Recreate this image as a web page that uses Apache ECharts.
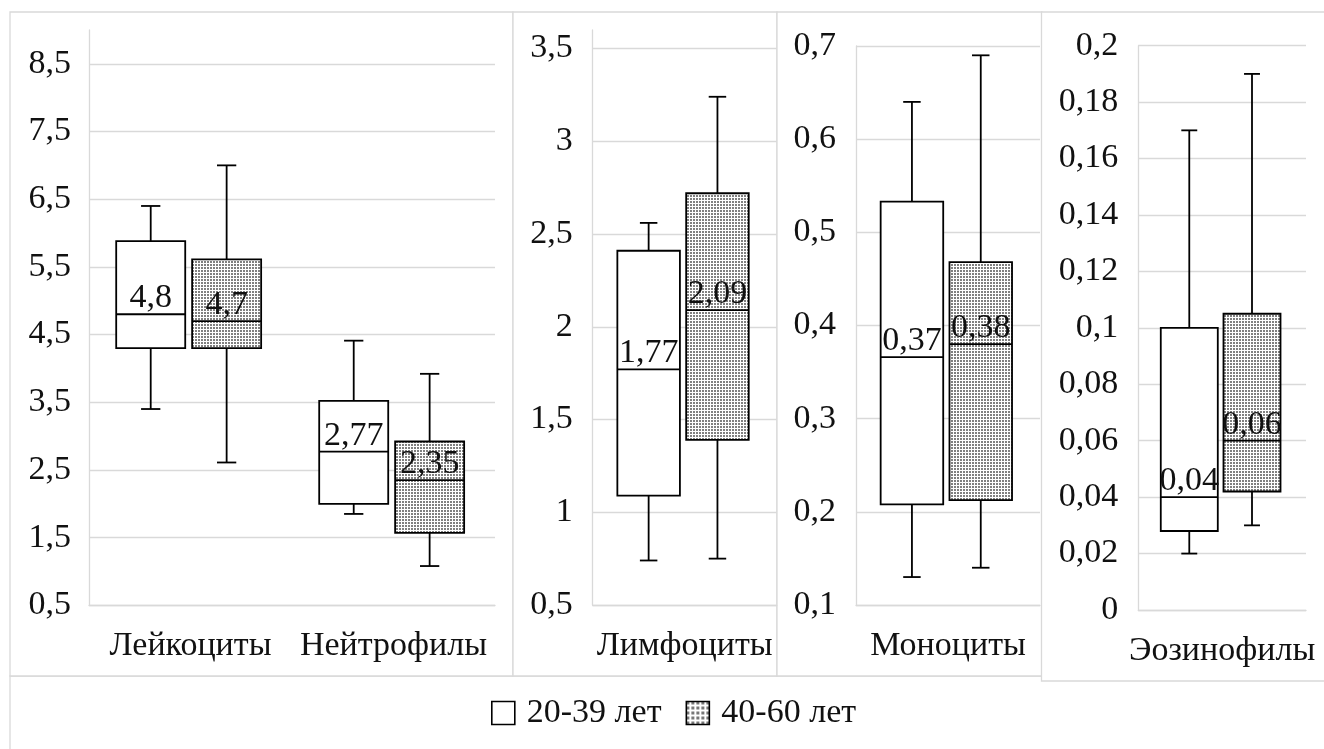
<!DOCTYPE html>
<html><head><meta charset="utf-8">
<script src="https://cdn.jsdelivr.net/npm/echarts@6/dist/echarts.min.js"></script>
<style>html,body{margin:0;padding:0;background:#fff}#c{width:1324px;height:749px}</style>
</head><body><div id="c"></div>
<script>
// ---- data ----
const groupNames = ['20-39 лет', '40-60 лет'];
const cats1 = ['Лейкоциты', 'Нейтрофилы'];
const cats2 = ['Лимфоциты'];
const cats3 = ['Моноциты'];
const cats4 = ['Эозинофилы'];
// each box: [min, Q1, median, Q3, max]
const young1 = [[3.40, 4.30, 4.80, 5.88, 6.40], [1.85, 2.00, 2.77, 3.52, 4.41]];
const old1   = [[2.61, 4.30, 4.70, 5.61, 7.00], [1.08, 1.57, 2.35, 2.92, 3.92]];
const young2 = [[0.74, 1.09, 1.77, 2.41, 2.56]];
const old2   = [[0.75, 1.39, 2.09, 2.72, 3.24]];
const young3 = [[0.13, 0.208, 0.366, 0.533, 0.64]];
const old3   = [[0.14, 0.2125, 0.38, 0.468, 0.69]];
const young4 = [[0.02, 0.028, 0.04, 0.10, 0.17]];
const old4   = [[0.03, 0.042, 0.06, 0.105, 0.19]];
const yMins = [0.5, 0.5, 0.1, 0];
const yMaxs = [9, 3.6, 0.7, 0.2];
const yIntervals = [1, 0.5, 0.1, 0.02];

// ---- styling ----
const FONT = '"Liberation Serif", "Times New Roman", serif';
const FS = 34;
const GRID_COLOR = '#d9d9d9';
const LW = 1.8;
const BOX_FRAC = 0.34, CAP_FRAC = 0.095;
const OFFSETS = [-0.196, 0.178];

function makePattern(period, dot, dark) {
  const c = document.createElement('canvas');
  c.width = c.height = period;
  const ctx = c.getContext('2d');
  ctx.fillStyle = '#fff'; ctx.fillRect(0, 0, period, period);
  ctx.fillStyle = dark; ctx.fillRect(0, 0, dot, dot);
  return c;
}
const boxPattern = { image: makePattern(3, 2, '#808080'), repeat: 'repeat' };
const legendPattern = { image: makePattern(5, 3, '#777'), repeat: 'repeat' };
const fills = ['#ffffff', boxPattern];

function fmt(v) { return String(Math.round(v * 100) / 100).replace('.', ','); }

function boxRenderer(offsetFrac, fill) {
  return function (params, api) {
    const ci = api.value(0);
    const band = api.size([1, 0])[0];
    const cx = api.coord([ci, api.value(3)])[0] + offsetFrac * band;
    const half = band * BOX_FRAC / 2;
    const cap = band * CAP_FRAC / 2;
    const y = [1, 2, 3, 4, 5].map(k => api.coord([ci, api.value(k)])[1]);
    const [yMin, yQ1, yMed, yQ3, yMax] = y;
    const line = (x1, y1, x2, y2) => ({ type: 'line', shape: { x1, y1, x2, y2 }, style: { stroke: '#000', lineWidth: LW } });
    return {
      type: 'group', children: [
        line(cx, yQ3, cx, yMax), line(cx - cap, yMax, cx + cap, yMax),
        line(cx, yQ1, cx, yMin), line(cx - cap, yMin, cx + cap, yMin),
        { type: 'rect', shape: { x: cx - half, y: yQ3, width: 2 * half, height: yQ1 - yQ3 },
          style: { fill: fill, stroke: '#000', lineWidth: LW } },
        line(cx - half, yMed, cx + half, yMed),
        { type: 'text', style: { x: cx, y: yMed + 1, text: fmt(api.value(3)), align: 'center', verticalAlign: 'bottom',
          font: FS + 'px ' + FONT, fill: '#111' } }
      ]
    };
  };
}

function mkSeries(gi, g, arr) {
  return {
    type: 'custom', name: groupNames[g], xAxisIndex: gi, yAxisIndex: gi,
    renderItem: boxRenderer(OFFSETS[g], fills[g]),
    encode: { x: 0, y: [1, 2, 3, 4, 5] },
    data: arr.map((d, i) => [i].concat(d)),
    itemStyle: { color: g === 0 ? '#fff' : legendPattern, borderColor: '#000', borderWidth: 1.5 },
    z: 3
  };
}

const catsList = [cats1, cats2, cats3, cats4];
const youngList = [young1, young2, young3, young4];
const oldList = [old1, old2, old3, old4];
const grids = [
  { left: 89, top: 30, width: 406, height: 575.3 },
  { left: 592.7, top: 30, width: 184, height: 575 },
  { left: 856, top: 46, width: 184, height: 559 },
  { left: 1138.3, top: 45.7, width: 167.7, height: 564.3 }
];

const series = [];
for (let i = 0; i < 4; i++) {
  series.push(mkSeries(i, 0, youngList[i]));
  series.push(mkSeries(i, 1, oldList[i]));
}

const frame = { stroke: GRID_COLOR, lineWidth: 1.3 };
const option = {
  backgroundColor: '#fff',
  animation: false,
  graphic: [
    { type: 'rect', z: -10, shape: { x: 10, y: 676, width: 1400, height: 200 }, style: Object.assign({ fill: '#fff' }, frame) },
    { type: 'rect', z: -10, shape: { x: 10, y: 12, width: 503, height: 664 }, style: Object.assign({ fill: '#fff' }, frame) },
    { type: 'rect', z: -10, shape: { x: 513, y: 12, width: 264, height: 664 }, style: Object.assign({ fill: '#fff' }, frame) },
    { type: 'rect', z: -10, shape: { x: 777, y: 12, width: 265, height: 664 }, style: Object.assign({ fill: '#fff' }, frame) },
    { type: 'rect', z: -10, shape: { x: 1041.5, y: 12, width: 400, height: 669 }, style: Object.assign({ fill: '#fff' }, frame) }
  ],
  grid: grids,
  legend: {
    left: 486, top: 691, itemWidth: 23, itemHeight: 23, itemGap: 24,
    textStyle: { fontFamily: FONT, fontSize: FS, color: '#111', padding: [0, 0, 0, 7] },
    data: [
      { name: groupNames[0], icon: 'rect', itemStyle: { color: '#fff', borderColor: '#000', borderWidth: 1.6 } },
      { name: groupNames[1], icon: 'rect', itemStyle: { color: legendPattern, borderColor: '#000', borderWidth: 1.6 } }
    ]
  },
  xAxis: catsList.map((c, i) => ({
    type: 'category', gridIndex: i, data: c,
    axisTick: { show: false },
    axisLine: { show: true, lineStyle: { color: GRID_COLOR, width: 1.3 } },
    axisLabel: { interval: 0, margin: 24, color: '#111', fontFamily: FONT, fontSize: FS }
  })),
  yAxis: catsList.map((c, i) => ({
    type: 'value', gridIndex: i, min: yMins[i], max: yMaxs[i], interval: yIntervals[i],
    axisLine: { show: true, lineStyle: { color: GRID_COLOR, width: 1.3 } },
    axisTick: { show: false },
    splitLine: { show: true, showMaxLine: i >= 2, lineStyle: { color: GRID_COLOR, width: 1.3 } },
    axisLabel: {
      margin: i === 0 ? 18 : 20, showMaxLabel: i >= 2, color: '#111', fontFamily: FONT, fontSize: FS,
      padding: [10, 0, 0, 0],
      formatter: v => fmt(v)
    }
  })),
  series: series
};
const chart = echarts.init(document.getElementById('c'), null, { renderer: 'canvas' });
chart.setOption(option);
</script></body></html>
